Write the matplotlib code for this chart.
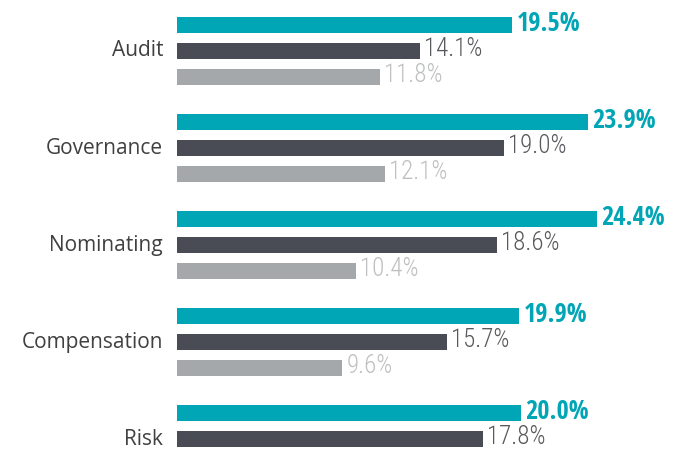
import numpy as np
import matplotlib
matplotlib.use("Agg")
import matplotlib.pyplot as plt
from matplotlib import font_manager

categories = ["Audit", "Governance", "Nominating", "Compensation", "Risk"]
series_a = [19.5, 23.9, 24.4, 19.9, 20.0]
series_b = [14.1, 19.0, 18.6, 15.7, 17.8]
series_c = [11.8, 12.1, 10.4, 9.6, np.nan]  # Risk's third bar is cut off in the source

colors = ["#00a5b6", "#494c54", "#a5a8ab"]
label_colors = ["#00a5b6", "#58595c", "#bdbfc1"]
weights = [700, 300, 300]
sizes = [19, 18, 18]

names = {f.name for f in font_manager.fontManager.ttflist}

def pick(cands):
    for c in cands:
        if c in names:
            return c
    return "DejaVu Sans"

bold_font = pick(["Open Sans Condensed", "Roboto Condensed"])
light_font = pick(["Roboto Condensed", "Open Sans Condensed"])
fonts = [bold_font, light_font, light_font]

fig = plt.figure(figsize=(6.84, 4.5), dpi=100)
ax = fig.add_axes([177 / 684, 0, 507 / 684, 1])

px_per_pct = 17.2
ax.set_xlim(0, 507 / px_per_pct)
pitch = 97.0
ax.set_ylim((450 - 51) / pitch, -51 / pitch)

y = np.arange(len(categories))
offset = 26 / pitch
height = 16 / pitch

for k, vals in enumerate([series_a, series_b, series_c]):
    pos = y + (k - 1) * offset
    ax.barh(pos, vals, height=height, color=colors[k])
    for p, v in zip(pos, vals):
        if np.isnan(v):
            continue
        ax.text(v + 0.25, p - 0.02, f"{v:.1f}%", va="center", ha="left",
                fontsize=sizes[k], color=label_colors[k], fontweight=weights[k],
                family=fonts[k])

for i, c in enumerate(categories):
    ax.text(-14 / px_per_pct, y[i], c, ha="right", va="center",
            fontsize=15, color="#404040", family="Open Sans")

ax.axis("off")
fig.savefig("out.png", dpi=100)
